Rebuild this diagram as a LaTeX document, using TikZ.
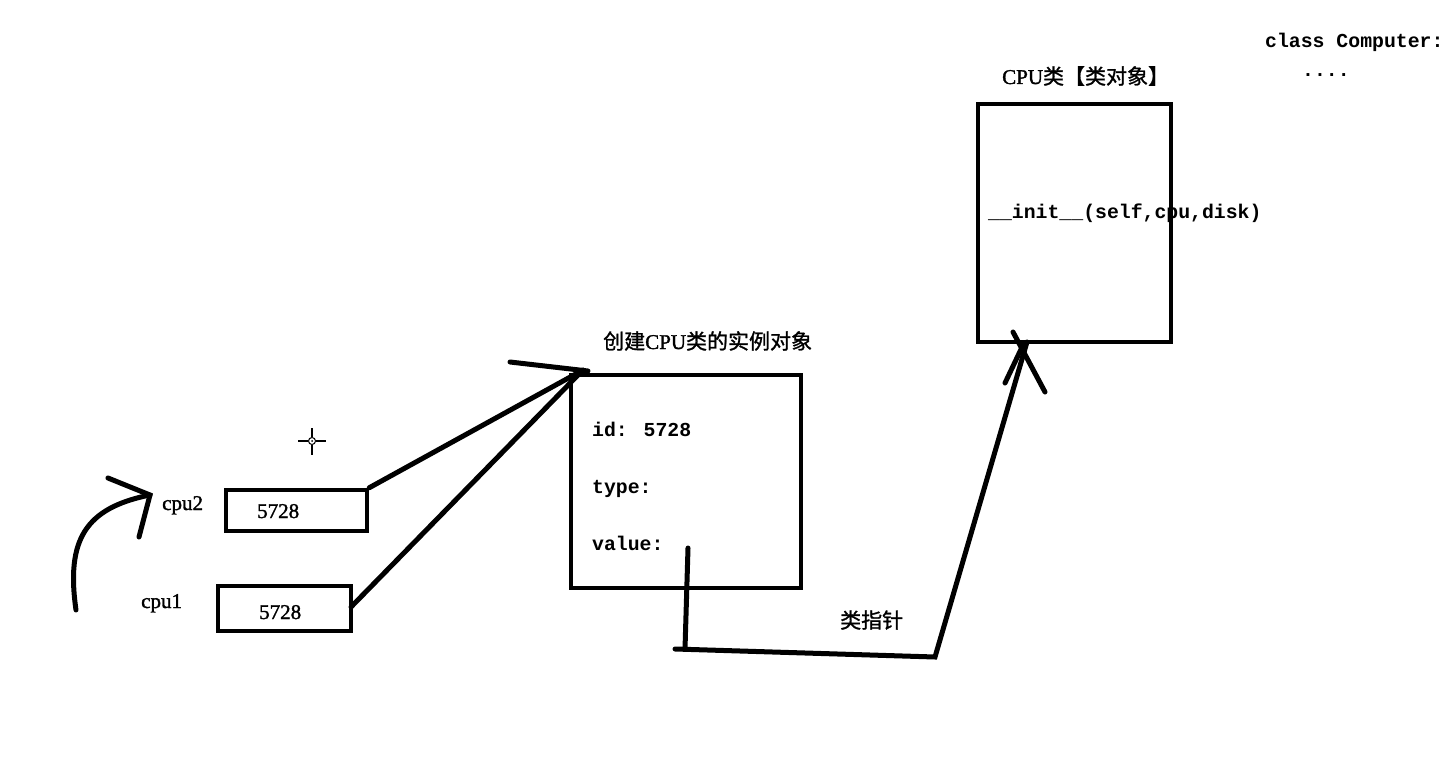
\documentclass[tikz,border=0pt]{standalone}
\usepackage{fontspec}
\setmainfont{Liberation Serif}[FakeBold=1.5,AutoFakeBold=1.5]
\newfontfamily\cjk{Noto Sans CJK SC}[FakeBold=1.2,AutoFakeBold=1.2]
\newfontfamily\monof{Liberation Mono}
\begin{document}
\begin{tikzpicture}[x=1pt,y=-1pt,
  box/.style={draw,line width=4.5pt,rectangle,inner sep=0pt},
  conn/.style={line width=5pt,line cap=round},
  mono/.style={anchor=base west,inner sep=0pt,font=\monof\bfseries\fontsize{19.8}{22}\selectfont},
  serif/.style={anchor=base west,inner sep=0pt,font=\bfseries\fontsize{21}{24}\selectfont},
  cn/.style={anchor=base west,inner sep=0pt,font=\bfseries\fontsize{21}{24}\selectfont}]
\useasboundingbox[fill=white] (0,0) rectangle (1446,770);

% boxes
\node[box,minimum width=193pt,minimum height=238pt] (cls) at (1074.5,223) {};
\node[box,minimum width=230pt,minimum height=213pt] (inst) at (686,481.5) {};
\node[box,minimum width=141pt,minimum height=41pt] (c2box) at (296.5,510.5) {};
\node[box,minimum width=133pt,minimum height=45pt] (c1box) at (284.5,608.5) {};

% texts
\node[mono] (clsdef) at (1265,48) {class Computer:};
\node[mono] (dots) at (1302,77) {....};
\node[cn] (clstitle) at (1002,84) {CPU{\cjk\bfseries 类【类对象】}};
\node[mono] (init) at (988,219) {\_\_init\_\_(self,cpu,disk)};
\node[cn] (insttitle) at (603,349) {{\cjk\bfseries 创建}CPU{\cjk\bfseries 类的实例对象}};
\node[mono] (id) at (592,436) {id: 5728};
\node[mono] (type) at (592,493) {type:};
\node[mono] (value) at (592,550) {value:};
\node[serif] (cpu2) at (162,510) {cpu2};
\node[serif] (v2) at (257,518) {5728};
\node[serif] (cpu1) at (141,608) {cpu1};
\node[serif] (v1) at (259,619) {5728};
\node[cn] (ptr) at (840,628) {\cjk\bfseries 类指针};

% connector coordinates
\coordinate (tipA) at (583,370);
\coordinate (tipB) at (580,373);
\coordinate (hA1) at (510,362);
\coordinate (hA2) at (588,371);
\coordinate (vtop) at (688,548);
\coordinate (vbot) at (685,649);
\coordinate (hl) at (675,649);
\coordinate (hr) at (935,657);
\coordinate (tipC) at (1027,342);
\coordinate (hC1) at (1005,383);
\coordinate (hC2) at (1024,343);
\coordinate (hC3) at (1013,332);
\coordinate (hC4) at (1045,392);
\coordinate (cs) at (76,610);
\coordinate (ce) at (150,495);
\coordinate (ch1) at (108,478);
\coordinate (ch2) at (139,537);
\coordinate (c1e) at (351,607);

% connectors
\draw[conn] (c2box.north east) -- (tipA);
\draw[conn] (c1e) -- (tipB);
\draw[conn] (hA1) -- (hA2);
\draw[conn] (vtop) -- (vbot);
\draw[conn] (hl) -- (hr) -- (tipC);
\draw[conn] (hC1) -- (hC2);
\draw[conn] (hC3) -- (hC4);
\draw[conn] (cs) .. controls (66,540) and (85,508) .. (ce);
\draw[conn] (ch1) -- (ce) -- (ch2);

% cursor crosshair
\coordinate (cur) at (312,441);
\draw[line width=1.6pt] (298,441) -- (308,441) (316,441) -- (326,441)
  (312,428) -- (312,437) (312,445) -- (312,455);
\draw[line width=1pt] (cur) circle (3.5pt);
\fill (cur) circle (1pt);
\end{tikzpicture}
\end{document}
